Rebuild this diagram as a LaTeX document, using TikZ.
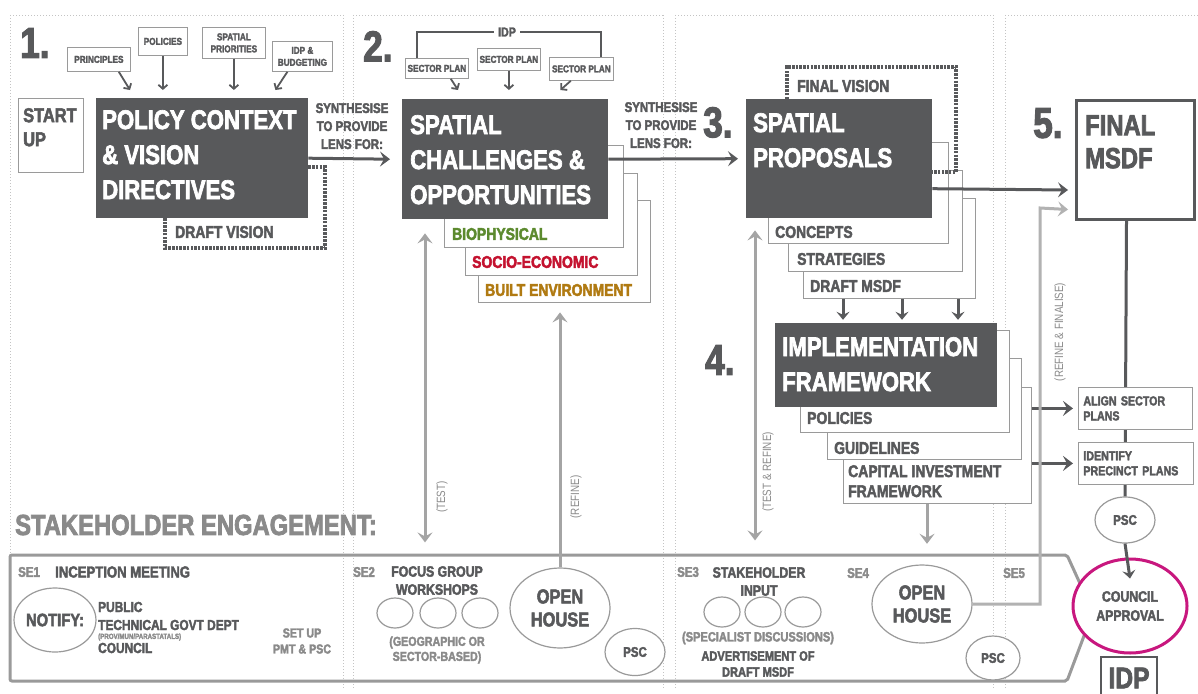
\documentclass[tikz,border=0pt]{standalone}
\usepackage{fontspec}
\setmainfont{Liberation Sans}[FakeStretch=0.82,BoldFont={Liberation Sans Bold},BoldFeatures={FakeStretch=0.82,FakeBold=2.5}]
\usetikzlibrary{arrows.meta,shapes.geometric}
\definecolor{dk}{HTML}{58595B}
\definecolor{lg}{HTML}{A4A4A4}
\definecolor{ln}{HTML}{9A9A9A}
\definecolor{gt}{HTML}{8A8A8A}
\definecolor{gd}{HTML}{C4C4C4}
\definecolor{bio}{HTML}{5C8A2E}
\definecolor{soc}{HTML}{C4122F}
\definecolor{blt}{HTML}{B07A12}
\definecolor{mag}{HTML}{C8177E}
\newcommand\fsl[2]{\fontsize{#1}{#2}\selectfont\bfseries}
\tikzset{
 guide/.style={draw=gd,line width=.8pt,dash pattern=on .8pt off 2.2pt},
 darkbox/.style={fill=dk,draw=none,anchor=north west,inner sep=0pt},
 layer/.style={draw=ln,line width=.8pt,fill=white,anchor=north west,inner sep=0pt},
 tag/.style={draw=ln,line width=.8pt,fill=white,text=dk,font=\fsl{10}{12},align=center,anchor=north west,inner sep=0pt},
 boxtext/.style={text=white,font=\fsl{27}{35},align=left,anchor=north west,inner sep=0pt},
 numeral/.style={text=dk,font=\fsl{43}{43},anchor=north west,inner sep=0pt},
 lbl/.style={text=dk,font=\fsl{17}{20},anchor=west,inner sep=0pt},
 selbl/.style={text=gt,font=\fsl{14}{16},anchor=west,inner sep=0pt},
 setext/.style={text=dk,font=\fsl{14.5}{18},align=center,inner sep=0pt},
 note/.style={text=gt,font=\fontsize{12}{12}\selectfont,rotate=90,inner sep=0pt},
 bubble/.style={ellipse,draw=ln,line width=1.2pt,fill=white,inner sep=0pt,text=dk,align=center},
 tarr/.style={draw=dk,line width=1.8pt,-{Straight Barb[length=4pt,width=9pt]}},
 darr/.style={draw=dk,line width=3pt,-{Stealth[length=10pt,width=15pt,inset=4pt]}},
 garr/.style={draw=lg,line width=3pt,-{Stealth[length=10pt,width=15pt,inset=4pt]}},
 gdarr/.style={draw=lg,line width=3pt,{Stealth[length=10pt,width=15pt,inset=4pt]}-{Stealth[length=10pt,width=15pt,inset=4pt]}},
 vis/.style={draw=dk,line width=4pt,dash pattern=on 2.5pt off 1.2pt},
 sebox/.style={draw=ln,line width=3pt,rounded corners=2pt}
}
\begin{document}
\begin{tikzpicture}[x=1pt,y=-1pt]
\useasboundingbox (0,0) rectangle (1198,693);
\fill[white] (0,0) rectangle (1198,693);
% column guides
\foreach \x in {343,353,663,675,993,1005}
  \draw[guide] (\x,15) -- (\x,688);
\draw[guide] (10,15) -- (10,555);
\draw[guide] (10,15) -- (343,15);
\draw[guide] (353,15) -- (663,15);
\draw[guide] (675,15) -- (993,15);
\draw[guide] (1005,15) -- (1198,15);

% 1. policy context
\node[numeral] (n1) at (20,28) {1.};
\node[tag,minimum width=65pt,minimum height=74pt] (su) at (18,98) {};
\node[anchor=north west,text=dk,font=\fsl{20}{24},align=left,inner sep=0pt] (sut) at (23,108) {START\\UP};
\node[tag,minimum width=63pt,minimum height=24pt] (prin) at (67,47) {PRINCIPLES};
\node[tag,minimum width=49pt,minimum height=28pt] (pol) at (138,27) {POLICIES};
\node[tag,minimum width=63pt,minimum height=31pt] (spri) at (202,27) {SPATIAL\\PRIORITIES};
\node[tag,minimum width=60pt,minimum height=30pt] (idpb) at (272,41) {IDP \&\\BUDGETING};
\coordinate (dvc) at (325,248);
\node[darkbox,minimum width=212pt,minimum height=120pt] (pc) at (96,98) {};
\draw[vis] ([yshift=-9pt]pc.east) -| (dvc) -| ([xshift=69pt]pc.south west);
\node[boxtext] (pct) at (102,110) {POLICY CONTEXT\\\& VISION\\DIRECTIVES};
\node[lbl] (dv) at (175,232) {DRAFT VISION};
\draw[tarr] ([xshift=-12pt]prin.south east) -- ([xshift=34pt,yshift=8pt]pc.north west);
\draw[tarr] (pol.south) -- ([yshift=8pt]pc.north -| pol.south);
\draw[tarr] (spri.south) -- ([yshift=8pt]pc.north -| spri.south);
\draw[tarr] ([xshift=-15pt]idpb.south) -- ([xshift=-33pt,yshift=8pt]pc.north east);
\node[text=dk,font=\fsl{14}{18},align=center,anchor=north,inner sep=0pt] (syn1) at (352,103) {SYNTHESISE\\TO PROVIDE\\LENS FOR:};

% 2. spatial challenges
\node[numeral] (n2) at (363,31) {2.};
\node[tag,minimum width=63pt,minimum height=20pt] (sp1) at (405,58) {SECTOR PLAN};
\node[tag,minimum width=63pt,minimum height=22pt] (sp2) at (477,48) {SECTOR PLAN};
\node[tag,minimum width=64pt,minimum height=23pt] (sp3) at (549,57) {SECTOR PLAN};
\node[text=dk,font=\fsl{13}{13},inner sep=4pt] (idpt) at (507,32) {IDP};
\draw[dk,line width=2pt] ([xshift=12pt]sp1.north west) |- (idpt.west);
\draw[dk,line width=2pt] ([xshift=-13pt]sp3.north east) |- (idpt.east);
\node[layer,minimum width=172pt,minimum height=102pt] (be) at (478,200) {};
\node[layer,minimum width=172pt,minimum height=102pt] (se) at (465,173) {};
\node[layer,minimum width=179pt,minimum height=102pt] (bi) at (444,145) {};
\node[darkbox,minimum width=206pt,minimum height=120pt] (sc) at (402,99) {};
\node[boxtext] (sct) at (410,115) {SPATIAL\\CHALLENGES \&\\OPPORTUNITIES};
\node[lbl,text=bio] (bit) at (452,234) {BIOPHYSICAL};
\node[lbl,text=soc] (set) at (472,262) {SOCIO-ECONOMIC};
\node[lbl,text=blt] (bet) at (485,290) {BUILT ENVIRONMENT};
\draw[tarr] ([xshift=-18pt]sp1.south east) -- ([xshift=56pt,yshift=9pt]sc.north west);
\draw[tarr] (sp2.south) -- ([yshift=9pt]sc.north -| sp2.south);
\draw[tarr] ([xshift=-43pt]sp3.south east) -- ([xshift=-48pt,yshift=9pt]sc.north east);
\draw[darr] (pc.east) -- ([xshift=-12pt]sc.west);
\node[text=dk,font=\fsl{14}{18},align=center,anchor=north,inner sep=0pt] (syn2) at (661,102) {SYNTHESISE\\TO PROVIDE\\LENS FOR:};

% 3. spatial proposals
\node[numeral] (n3) at (703,107) {3.};
\node[layer,minimum width=172pt,minimum height=100pt] (dm) at (803,198) {};
\node[layer,minimum width=174pt,minimum height=101pt] (st) at (788,170) {};
\node[layer,minimum width=180pt,minimum height=101pt] (cn) at (768,142) {};
\coordinate (fvc) at (956,67);
\node[darkbox,minimum width=186pt,minimum height=119pt] (spr) at (746,99) {};
\draw[vis] ([xshift=41pt]spr.north west) |- (fvc) |- ([yshift=-13.5pt]spr.east);
\node[lbl] (fv) at (797,86) {FINAL VISION};
\node[boxtext] (sprt) at (753,113) {SPATIAL\\PROPOSALS};
\node[lbl] (cnt) at (775,232) {CONCEPTS};
\node[lbl] (stt) at (797,259) {STRATEGIES};
\node[lbl] (dmt) at (810,286) {DRAFT MSDF};
\draw[darr] (sc.east) -- ([xshift=-8pt]spr.west);

% 4. implementation
\node[numeral] (n4) at (705,345) {4.};
\node[layer,minimum width=188pt,minimum height=116pt] (ci) at (843,387) {};
\node[layer,minimum width=194pt,minimum height=101pt] (gu) at (827,358) {};
\node[layer,minimum width=209pt,minimum height=102pt] (po) at (800,330) {};
\node[darkbox,minimum width=222pt,minimum height=84pt] (im) at (775,323) {};
\node[boxtext] (imt) at (782,337) {IMPLEMENTATION\\FRAMEWORK};
\node[lbl] (pot) at (807,418) {POLICIES};
\node[lbl] (gut) at (834,448) {GUIDELINES};
\node[lbl,anchor=north west,align=left,font=\fsl{17}{20}] (cit) at (848,465) {CAPITAL INVESTMENT\\FRAMEWORK};
\foreach \dx in {40,99,155}
  \draw[darr,-{Stealth[length=8pt,width=13pt,inset=3pt]}] ([xshift=\dx pt]dm.south west) -- ++(0,21);

% 5. final msdf
\node[numeral] (n5) at (1033,108) {5.};
\node[draw=dk,line width=3pt,fill=white,anchor=north west,minimum width=118pt,minimum height=119pt,inner sep=0pt] (fm) at (1075,99) {};
\node[anchor=north west,text=dk,font=\fsl{29}{33},align=left,inner sep=0pt] (fmt) at (1085,115) {FINAL\\MSDF};
\draw[darr] ([yshift=-30pt]spr.east) -- ([xshift=-7pt,yshift=-30pt]fm.west);
\node[bubble,minimum width=60pt,minimum height=46pt,font=\fsl{14}{14}] (psc3) at (1125,520) {PSC};
\draw[dk,line width=3pt] ([xshift=-9pt]fm.south) -- (psc3.north);
\node[tag,anchor=north west,minimum height=42pt,text width=104pt,inner xsep=5pt,align=left,font=\fsl{13}{15}] (as) at (1078,387) {ALIGN SECTOR\\PLANS};
\node[tag,anchor=north west,minimum height=42pt,text width=105pt,inner xsep=5pt,align=left,font=\fsl{13}{15}] (ip) at (1078,442) {IDENTIFY\\PRECINCT PLANS};
\draw[darr] (ci.east |- as.west) -- ([xshift=-5pt]as.west);
\draw[darr] (ci.east |- ip.west) -- ([xshift=-5pt]ip.west);

% stakeholder engagement
\node[anchor=west,text=gt,font=\fsl{29}{29},inner sep=0pt] (seh) at (15,525) {STAKEHOLDER ENGAGEMENT:};
\draw[sebox] (10,555) -- (1067,555) -- (1093,612) -- (1067,681) -- (10,681) -- cycle;
\node[bubble,draw=mag,line width=3pt,minimum width=114pt,minimum height=94pt,font=\fsl{15}{19}] (ca) at (1130,606) {COUNCIL\\APPROVAL};
\draw[darr,-{Stealth[length=8pt,width=13pt,inset=3pt]}] (psc3.south) -- ([yshift=-21pt]ca.north);
\draw[dk,line width=2pt] (1101,694) |- (1157,657) -- (1157,694);
\node[text=dk,font=\fsl{30}{30},inner sep=0pt] (idpx) at (1129,678) {IDP};

\node[selbl] (se1) at (18,572) {SE1};
\node[lbl,font=\fsl{16}{16}] (incm) at (55,572) {INCEPTION MEETING};
\node[bubble,minimum width=80pt,minimum height=64pt,font=\fsl{18}{18}] (ntf) at (55,620) {NOTIFY:};
\node[lbl,font=\fsl{14.5}{14.5}] (pub) at (98,607) {PUBLIC};
\node[lbl,font=\fsl{14.5}{14.5}] (tgd) at (98,625) {TECHNICAL GOVT DEPT};
\node[lbl,font=\fsl{7.5}{7.5},text=gt] (prv) at (98,637) {(PROV/MUN/PARASTATALS)};
\node[lbl,font=\fsl{14.5}{14.5}] (cou) at (98,648) {COUNCIL};
\node[setext,text=gt,font=\fsl{13}{16}] (pmt) at (302,641) {SET UP\\PMT \& PSC};

\node[selbl] (se2) at (353,572) {SE2};
\node[setext,anchor=north,font=\fsl{15}{18}] (fgw) at (437,566) {FOCUS GROUP\\WORKSHOPS};
\foreach \i/\x in {1/395,2/438,3/480}
  \node[bubble,minimum width=36pt,minimum height=30pt] (fg\i) at (\x,613) {};
\node[setext,text=gt,font=\fsl{13}{15}] (geo) at (437,650) {(GEOGRAPHIC OR\\SECTOR-BASED)};
\node[bubble,minimum width=100pt,minimum height=80pt,font=\fsl{20}{23}] (oh1) at (560,608) {OPEN\\HOUSE};
\node[bubble,minimum width=60pt,minimum height=47pt,font=\fsl{14}{14}] (psc1) at (635,652) {PSC};

\node[selbl] (se3) at (677,572) {SE3};
\node[setext,anchor=north,font=\fsl{15}{18}] (shi) at (759,567) {STAKEHOLDER\\INPUT};
\foreach \i/\x in {1/722,2/763,3/803}
  \node[bubble,minimum width=36pt,minimum height=30pt] (si\i) at (\x,612) {};
\node[setext,text=gt,font=\fsl{13.5}{13.5}] (spd) at (758,638) {(SPECIALIST DISCUSSIONS)};
\node[setext,anchor=north,font=\fsl{13.5}{16}] (adv) at (758,651) {ADVERTISEMENT OF\\DRAFT MSDF};

\node[selbl] (se4) at (847,573) {SE4};
\node[bubble,minimum width=100pt,minimum height=78pt,font=\fsl{20}{23}] (oh2) at (922,604) {OPEN\\HOUSE};
\node[bubble,minimum width=54pt,minimum height=44pt,font=\fsl{14}{14}] (psc2) at (993,658) {PSC};
\node[selbl] (se5) at (1003,573) {SE5};

% feedback arrows
\coordinate (rfc) at (1040,208);
\draw[garr,draw=lg!85] (oh2.east) -| (rfc) -- ([xshift=-7pt,yshift=-49.5pt]fm.west);
\node[note] (rfl) at (1060,332) {(REFINE \& FINALISE)};
\draw[gdarr] ([xshift=23pt,yshift=-14pt]sc.south west) -- ++(0,309);
\node[note] (tst) at (442,497) {(TEST)};
\draw[garr] (oh1.north) -- ++(0,-255);
\node[note] (rfn) at (576,497) {(REFINE)};
\draw[gdarr] ([xshift=9pt,yshift=-12pt]spr.south west) -- ++(0,310);
\node[note] (tsr) at (768,472) {(TEST \& REFINE)};
\draw[garr] ([xshift=84pt]ci.south west) -- ++(0,40);
\end{tikzpicture}
\end{document}
